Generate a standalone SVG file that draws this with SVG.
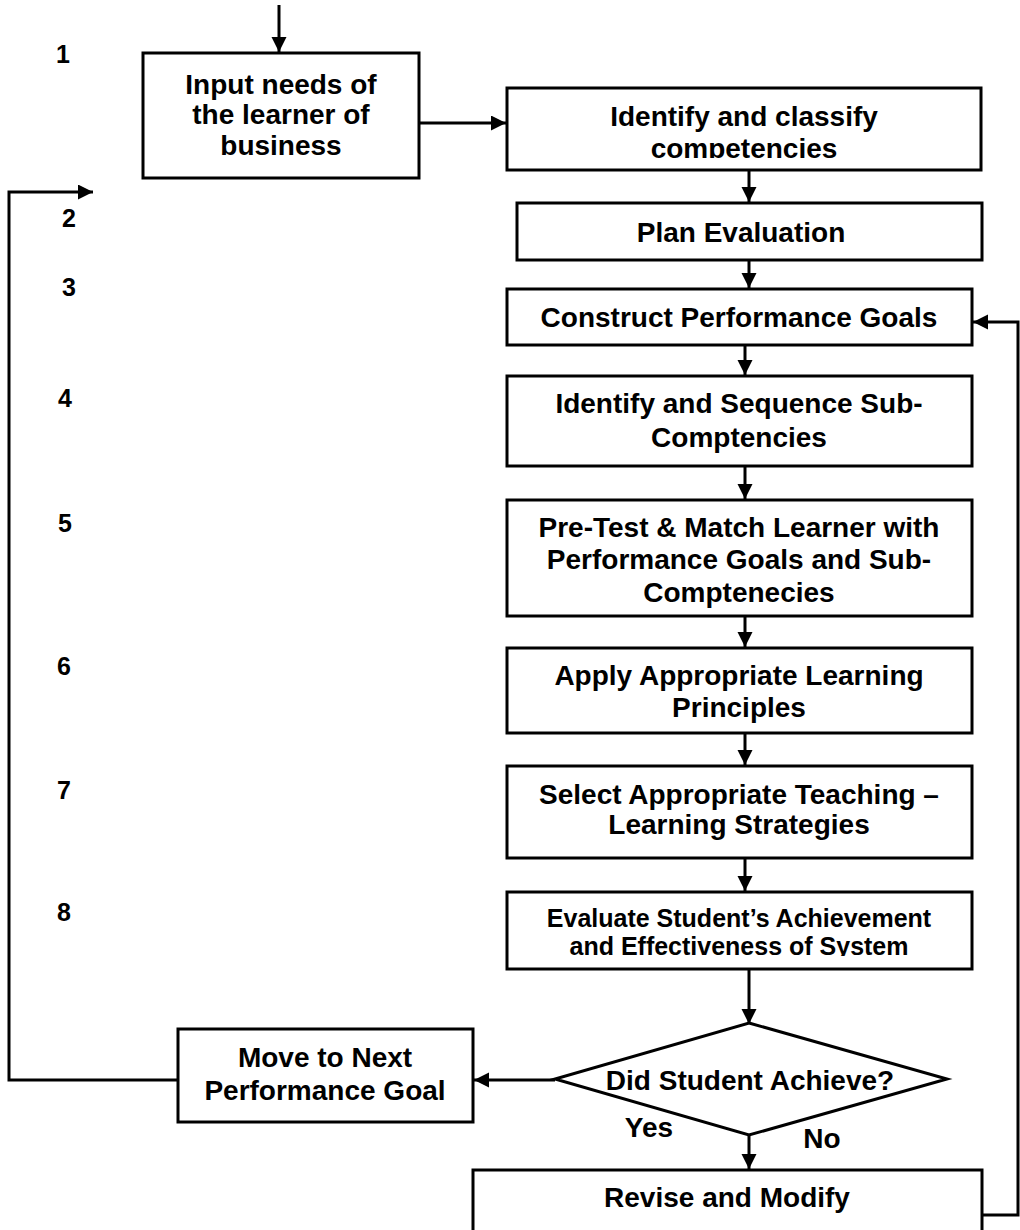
<svg xmlns="http://www.w3.org/2000/svg" width="1020" height="1230" viewBox="0 0 1020 1230">
<style>
  .box { fill: #ffffff; stroke: #000000; stroke-width: 3; }
  .t { font-family: "Liberation Sans", Arial, sans-serif; font-weight: bold; font-size: 28px; fill: #000000; text-anchor: middle; }
  .s { font-size: 25px; }
  .num { font-family: "Liberation Sans", Arial, sans-serif; font-weight: bold; font-size: 25px; fill: #000000; }
  .c { fill: none; stroke: #000000; stroke-width: 3; }
</style>
<defs>
  <marker id="ah" markerUnits="userSpaceOnUse" markerWidth="16" markerHeight="16" refX="15" refY="7.5" orient="auto">
    <path d="M0,0 L15,7.5 L0,15 z" fill="#000000"/>
  </marker>
  <clipPath id="clip2"><rect x="507" y="88" width="474" height="70"/></clipPath>
  <clipPath id="clip9"><rect x="507" y="892" width="465" height="64"/></clipPath>
</defs>

<g id="numbers">
  <text class="num" x="56" y="63">1</text>
  <text class="num" x="62" y="227">2</text>
  <text class="num" x="62" y="296">3</text>
  <text class="num" x="58" y="407">4</text>
  <text class="num" x="58" y="532">5</text>
  <text class="num" x="57" y="675">6</text>
  <text class="num" x="57" y="799">7</text>
  <text class="num" x="57" y="921">8</text>
</g>

<g id="connectors">
  <path class="c" d="M279,5 L279,52" marker-end="url(#ah)"/>
  <path class="c" d="M419,123 L506,123" marker-end="url(#ah)"/>
  <path class="c" d="M749,170 L749,202" marker-end="url(#ah)"/>
  <path class="c" d="M749,260 L749,288" marker-end="url(#ah)"/>
  <path class="c" d="M745,345 L745,375" marker-end="url(#ah)"/>
  <path class="c" d="M745,466 L745,499" marker-end="url(#ah)"/>
  <path class="c" d="M745,616 L745,647" marker-end="url(#ah)"/>
  <path class="c" d="M745,733 L745,765" marker-end="url(#ah)"/>
  <path class="c" d="M745,858 L745,891" marker-end="url(#ah)"/>
  <path class="c" d="M749,969 L749,1024" marker-end="url(#ah)"/>
  <path class="c" d="M555,1080 L474,1080" marker-end="url(#ah)"/>
  <path class="c" d="M749,1135 L749,1169" marker-end="url(#ah)"/>
  <path class="c" d="M178,1080 L9,1080 L9,192 L93,192" marker-end="url(#ah)"/>
  <path class="c" d="M982,1215 L1018,1215 L1018,322 L973,322" marker-end="url(#ah)"/>
</g>

<g id="n1">
  <rect class="box" x="143" y="53" width="276" height="125"/>
  <text class="t" x="281" y="94">Input needs of</text>
  <text class="t" x="281" y="124">the learner of</text>
  <text class="t" x="281" y="155">business</text>
</g>

<g id="n2">
  <rect class="box" x="507" y="88" width="474" height="82"/>
  <g clip-path="url(#clip2)">
    <text class="t" x="744" y="126">Identify and classify</text>
    <text class="t" x="744" y="158">competencies</text>
  </g>
</g>

<g id="n3">
  <rect class="box" x="517" y="203" width="465" height="57"/>
  <text class="t" x="741" y="242">Plan Evaluation</text>
</g>

<g id="n4">
  <rect class="box" x="507" y="289" width="465" height="56"/>
  <text class="t" x="739" y="327">Construct Performance Goals</text>
</g>

<g id="n5">
  <rect class="box" x="507" y="376" width="465" height="90"/>
  <text class="t" x="739" y="413">Identify and Sequence Sub-</text>
  <text class="t" x="739" y="447">Comptencies</text>
</g>

<g id="n6">
  <rect class="box" x="507" y="500" width="465" height="116"/>
  <text class="t" x="739" y="537">Pre-Test &amp; Match Learner with</text>
  <text class="t" x="739" y="569">Performance Goals and Sub-</text>
  <text class="t" x="739" y="602">Comptenecies</text>
</g>

<g id="n7">
  <rect class="box" x="507" y="648" width="465" height="85"/>
  <text class="t" x="739" y="685">Apply Appropriate Learning</text>
  <text class="t" x="739" y="717">Principles</text>
</g>

<g id="n8">
  <rect class="box" x="507" y="766" width="465" height="92"/>
  <text class="t" x="739" y="804">Select Appropriate Teaching –</text>
  <text class="t" x="739" y="834">Learning Strategies</text>
</g>

<g id="n9">
  <rect class="box" x="507" y="892" width="465" height="77"/>
  <g clip-path="url(#clip9)">
    <text class="t s" x="739" y="927">Evaluate Student’s Achievement</text>
    <text class="t s" x="739" y="955">and Effectiveness of System</text>
  </g>
</g>

<g id="n10">
  <polygon class="box" points="749,1023 947,1079 749,1135 555,1079"/>
  <text class="t" x="750" y="1090">Did Student Achieve?</text>
</g>

<g id="n11">
  <rect class="box" x="178" y="1029" width="295" height="93"/>
  <text class="t" x="325" y="1067">Move to Next</text>
  <text class="t" x="325" y="1100">Performance Goal</text>
</g>

<g id="n12">
  <rect class="box" x="473" y="1170" width="509" height="80"/>
  <text class="t" x="727" y="1207">Revise and Modify</text>
</g>

<g id="labels">
  <text class="t" x="649" y="1137" font-size="26">Yes</text>
  <text class="t" x="822" y="1148" font-size="26">No</text>
</g>
</svg>
